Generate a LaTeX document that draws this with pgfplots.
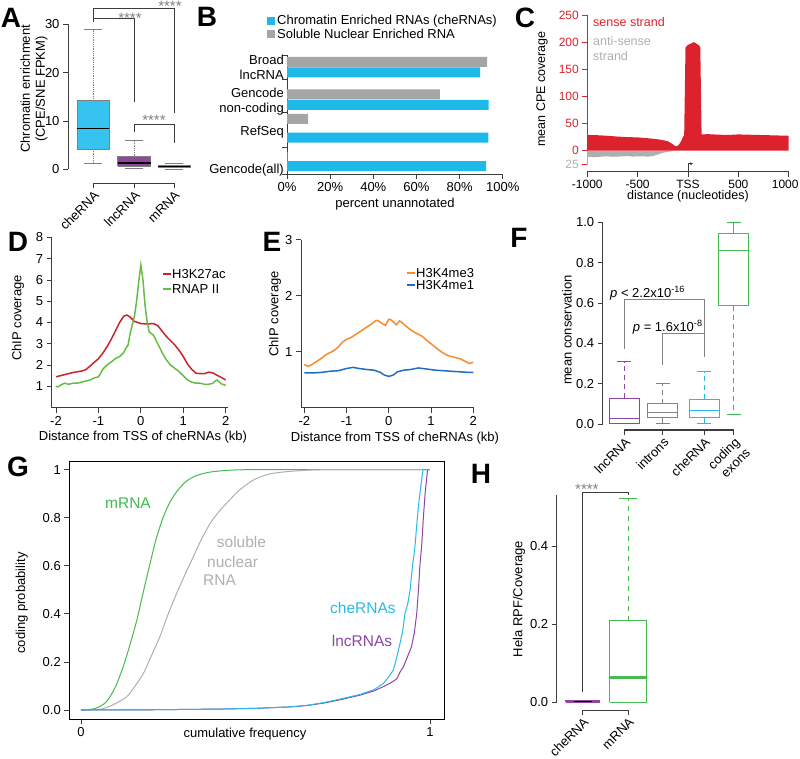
\documentclass[border=0pt]{standalone}
\usepackage{fontspec}
\setmainfont{Liberation Sans}
\usepackage{pgfplots}
\pgfplotsset{compat=1.18}
\usetikzlibrary{arrows.meta}
\definecolor{cheblue}{RGB}{55,195,240}
\definecolor{bbar}{RGB}{30,185,235}
\definecolor{bgray}{RGB}{165,165,168}
\definecolor{lncpurple}{RGB}{145,70,160}
\definecolor{mgreen}{RGB}{30,75,45}
\definecolor{cred}{RGB}{220,35,45}
\definecolor{cgray}{RGB}{175,175,175}
\definecolor{dred}{RGB}{200,35,45}
\definecolor{dgreen}{RGB}{100,190,70}
\definecolor{eorange}{RGB}{245,140,45}
\definecolor{eblue}{RGB}{30,110,195}
\definecolor{fpurple}{RGB}{140,70,165}
\definecolor{fgray}{RGB}{130,130,130}
\definecolor{fcyan}{RGB}{40,185,235}
\definecolor{fgreen}{RGB}{70,185,80}
\definecolor{axgray}{RGB}{60,60,60}
\newcommand{\fs}{\fontsize{13}{15}\selectfont}
\newcommand{\fl}{\fontsize{15.5}{17}\selectfont}
\newcommand{\panel}{\fontsize{28}{30}\selectfont\bfseries}
\pgfplotsset{
  every axis/.append style={
    scale only axis,
    font=\fs,
    /pgf/number format/assume math mode=true,
    tick style={axgray, line width=0.8pt},
    major tick length=5pt,
    tick align=outside,
    axis line style={axgray, line width=0.9pt},
    clip=false,
  },
  fdash/.style={dash pattern=on 5pt off 4pt, line width=1pt},
}
\begin{document}
\begin{tikzpicture}
% ================= A =================
\begin{axis}[at={(68pt,-183.3pt)}, anchor=south west, width=127pt, height=178.3pt,
  xmin=68, xmax=195, ymin=-2.9, ymax=34,
  axis line style={draw=none}, tick pos=left,
  xtick={93,134,174}, xticklabels={cheRNA,lncRNA,mRNA},
  xticklabel style={rotate=45, anchor=north east, inner sep=1pt},
  ytick={0,10,20,30}]
% cheRNA
\addplot[gray, densely dotted, line width=0.8pt] coordinates {(93,14.2) (93,29)};
\addplot[gray, densely dotted, line width=0.8pt] coordinates {(93,4.2) (93,1.3)};
\addplot[gray, line width=0.8pt] coordinates {(84,29) (102,29)};
\addplot[gray, line width=0.8pt] coordinates {(84,1.3) (102,1.3)};
\addplot[draw=gray, fill=cheblue] coordinates {(77,4.2) (109,4.2) (109,14.2) (77,14.2) (77,4.2)};
\addplot[black, line width=1.6pt] coordinates {(77,8.4) (109,8.4)};
% lncRNA
\addplot[gray, densely dotted, line width=0.8pt] coordinates {(134,2.7) (134,5.9)};
\addplot[gray, densely dotted, line width=0.8pt] coordinates {(134,0.7) (134,0.1)};
\addplot[gray, line width=0.8pt] coordinates {(125,5.9) (143,5.9)};
\addplot[gray, line width=0.8pt] coordinates {(125,0.1) (143,0.1)};
\addplot[draw=gray, fill=lncpurple] coordinates {(117.5,0.7) (150.5,0.7) (150.5,2.7) (117.5,2.7) (117.5,0.7)};
\addplot[black, line width=1.6pt] coordinates {(117.5,1.3) (150.5,1.3)};
% mRNA
\addplot[gray, densely dotted, line width=0.8pt] coordinates {(174,0.8) (174,1.3)};
\addplot[gray, line width=0.8pt] coordinates {(165,1.3) (183,1.3)};
\addplot[gray, line width=0.8pt] coordinates {(165,0.05) (183,0.05)};
\addplot[draw=gray, fill=mgreen] coordinates {(158,0.4) (190,0.4) (190,0.8) (158,0.8) (158,0.4)};
\addplot[black, line width=1.6pt] coordinates {(158,0.6) (190,0.6)};
\draw[axgray, line width=0.9pt] (axis cs:68,0) -- (axis cs:68,30);
\draw[axgray, line width=0.9pt] (axis cs:93,-2.9) -- (axis cs:174,-2.9);
\draw[axgray, line width=0.8pt] (axis cs:93,30.5) -- (axis cs:93,33.2) -- (axis cs:174,33.2) -- (axis cs:174,11.6);
\draw[axgray, line width=0.8pt] (axis cs:93,31.3) -- (axis cs:134,31.3) -- (axis cs:134,14);
\draw[axgray, line width=0.8pt] (axis cs:134,7.8) -- (axis cs:134,9.35) -- (axis cs:174,9.35) -- (axis cs:174,5.4);
\end{axis}
% ================= B =================
\begin{axis}[at={(287pt,-174pt)}, anchor=south west, width=215.7pt, height=119pt,
  xmin=0, xmax=100, ymin=-174, ymax=-55,
  axis x line*=bottom, axis y line*=left, x axis line style={-}, y axis line style={-},
  xtick={0,20,40,60,80,100}, xticklabels={0\%,20\%,40\%,60\%,80\%,100\%},
  ytick={-174,-147,-112,-79,-55}, yticklabels={}]
\addplot[xbar, bar shift=0pt, bar width=10pt, fill=bgray, draw=none] coordinates {(92.8,-62) (70.9,-94.5) (9.8,-119) (0.3,-157)};
\addplot[xbar, bar shift=0pt, bar width=10pt, fill=bbar, draw=none] coordinates {(89.5,-72.5) (93.5,-105) (93.3,-137.7) (92.3,-166.2)};
\end{axis}
% ================= C =================
\begin{axis}[at={(587.3pt,-171.7pt)}, anchor=south west, width=201.4pt, height=156.7pt,
  xmin=-1000, xmax=1000, ymin=-38.7, ymax=250,
  axis line style={draw=none}, tick pos=left,
  font=\fontsize{12}{14}\selectfont,
  xtick={-1000,-500,0,500,1000}, xticklabels={-1000,-500,TSS,500,\makebox[0pt]{\hspace{-7pt}1000}},
  ytick={-25,0,50,100,150,200,250}, yticklabels={\textcolor{cgray}{25},0,50,100,150,200,250},
  yticklabel style={text=cred}, ytick style={cred}]
\addplot[fill=cgray, draw=none] coordinates {(-1000,0) (-1000,-11) (-950,-12) (-900,-11.5) (-850,-10.8) (-800,-10.5) (-750,-11.2) (-700,-11) (-650,-10.4) (-600,-10) (-550,-10.8) (-500,-10.5) (-450,-10.2) (-400,-11) (-350,-10) (-300,-7) (-250,-4) (-200,-2) (-150,-0.5) (-100,0)} \closedcycle;
\addplot[fill=cred, draw=none] coordinates {(-1000,0) (-1000,29) (-900,28.5) (-800,27.5) (-700,26) (-600,25) (-500,24.5) (-400,23) (-300,21) (-250,19.5) (-200,17.5) (-160,13) (-130,9) (-110,8) (-90,11) (-70,17) (-50,25) (-38,28) (-25,190) (0,195) (60,200) (110,194) (122,190) (135,30) (200,30.5) (300,29.5) (400,29) (500,30) (600,29.5) (700,29) (800,28.5) (900,28) (1000,27.5) (1000,0)} \closedcycle;
\draw[cred, line width=0.9pt] (axis cs:-1000,0) -- (axis cs:-1000,250);
\draw[cgray, line width=0.9pt] (axis cs:-1000,-27) -- (axis cs:-1000,0);
\draw[axgray, line width=0.9pt] (axis cs:-1000,-38.7) -- (axis cs:1000,-38.7);
\draw[axgray, line width=0.7pt, -{Stealth[length=3pt,width=3pt]}] (axis cs:0,-38.7) -- (axis cs:0,-24) -- (axis cs:50,-24);
\end{axis}
% ================= D =================
\begin{axis}[at={(51.7pt,-407.7pt)}, anchor=south west, width=176.1pt, height=170.4pt,
  xmin=-2.101, xmax=2.05, ymin=0, ymax=8,
  axis x line*=bottom, axis y line*=left, x axis line style={-}, y axis line style={-},
  xtick={-2,-1,0,1,2}, ytick={1,2,3,4,5,6,7,8}]
\addplot[dred, line width=1.5pt] coordinates {(-2,1.45) (-1.8,1.55) (-1.6,1.65) (-1.4,1.72) (-1.3,1.78) (-1.2,1.95) (-1.0,2.3) (-0.9,2.55) (-0.8,2.85) (-0.7,3.2) (-0.6,3.6) (-0.5,4.0) (-0.4,4.3) (-0.33,4.35) (-0.25,4.25) (-0.15,4.05) (0,3.95) (0.15,3.93) (0.3,3.95) (0.4,3.85) (0.5,3.6) (0.6,3.35) (0.7,3.15) (0.8,2.95) (0.9,2.7) (1.0,2.4) (1.1,2.05) (1.2,1.8) (1.3,1.62) (1.4,1.6) (1.5,1.6) (1.6,1.67) (1.7,1.63) (1.8,1.52) (1.9,1.42) (2.0,1.3)};
\addplot[dgreen, line width=1.5pt] coordinates {(-2,1.0) (-1.95,0.98) (-1.9,1.05) (-1.8,1.15) (-1.7,1.1) (-1.6,1.15) (-1.5,1.15) (-1.4,1.2) (-1.3,1.25) (-1.2,1.3) (-1.1,1.4) (-1.0,1.45) (-0.95,1.6) (-0.9,1.8) (-0.8,2.0) (-0.7,2.15) (-0.6,2.3) (-0.5,2.4) (-0.4,2.6) (-0.35,2.8) (-0.3,2.95) (-0.25,3.5) (-0.2,3.9) (-0.15,4.3) (-0.1,5.0) (-0.05,5.9) (0,6.7) (0.05,6.0) (0.1,4.8) (0.15,4.0) (0.2,3.55) (0.3,3.4) (0.4,3.0) (0.5,2.6) (0.6,2.25) (0.7,2.0) (0.8,1.85) (0.9,1.7) (1.0,1.5) (1.1,1.3) (1.2,1.2) (1.3,1.15) (1.4,1.15) (1.5,1.1) (1.6,1.1) (1.7,1.15) (1.75,1.25) (1.8,1.3) (1.85,1.2) (1.9,1.12) (2.0,1.05)};
\end{axis}
% ================= E =================
\begin{axis}[at={(301pt,-407.7pt)}, anchor=south west, width=173.2pt, height=168pt,
  xmin=-2.078, xmax=2.02, ymin=0, ymax=3,
  axis x line*=bottom, axis y line*=left, x axis line style={-}, y axis line style={-},
  xtick={-2,-1,0,1,2}, ytick={1,2,3}]
\addplot[eorange, line width=1.5pt] coordinates {(-2,0.77) (-1.9,0.74) (-1.8,0.78) (-1.7,0.83) (-1.6,0.88) (-1.5,0.94) (-1.4,0.98) (-1.3,1.02) (-1.2,1.08) (-1.1,1.17) (-1.0,1.22) (-0.9,1.25) (-0.8,1.3) (-0.7,1.35) (-0.6,1.4) (-0.5,1.45) (-0.4,1.5) (-0.3,1.56) (-0.25,1.55) (-0.15,1.5) (-0.08,1.47) (0,1.58) (0.05,1.57) (0.12,1.52) (0.18,1.48) (0.25,1.55) (0.3,1.53) (0.4,1.46) (0.5,1.4) (0.6,1.35) (0.7,1.31) (0.8,1.27) (0.9,1.2) (1.0,1.14) (1.1,1.08) (1.2,1.02) (1.3,0.97) (1.4,0.93) (1.5,0.91) (1.6,0.89) (1.7,0.87) (1.8,0.83) (1.9,0.79) (2.0,0.81)};
\addplot[eblue, line width=1.5pt] coordinates {(-2,0.62) (-1.8,0.62) (-1.6,0.63) (-1.4,0.65) (-1.2,0.66) (-1.0,0.7) (-0.85,0.72) (-0.7,0.7) (-0.5,0.68) (-0.35,0.67) (-0.2,0.63) (-0.1,0.58) (0,0.56) (0.1,0.58) (0.2,0.64) (0.35,0.67) (0.5,0.68) (0.7,0.71) (0.9,0.69) (1.1,0.67) (1.3,0.66) (1.5,0.65) (1.7,0.64) (1.9,0.63) (2.0,0.63)};
\end{axis}
% ================= F =================
\begin{axis}[at={(602.7pt,-430pt)}, anchor=south west, width=147.3pt, height=211.8pt,
  xmin=0, xmax=4.91, ymin=-0.03, ymax=1.02,
  axis line style={draw=none}, tick pos=left,
  xtick={0.72,2.0,3.377,4.367}, xticklabels={lncRNA,introns,cheRNA,{coding\\exons}},
  xticklabel style={rotate=45, anchor=north east, align=right, inner sep=1pt},
  ytick={0,0.2,0.4,0.6,0.8,1.0}, yticklabels={0.0,0.2,0.4,0.6,0.8,1.0}]
% lncRNA
\addplot[fpurple, fdash] coordinates {(0.72,0.127) (0.72,0.309)};
\addplot[fpurple, line width=1pt] coordinates {(0.487,0.309) (0.953,0.309)};
\addplot[fpurple, line width=1pt] coordinates {(0.487,0) (0.953,0)};
\addplot[draw=fpurple, fill=white, line width=1pt] coordinates {(0.22,0.004) (1.22,0.004) (1.22,0.127) (0.22,0.127) (0.22,0.004)};
\addplot[fpurple, line width=1pt] coordinates {(0.22,0.028) (1.22,0.028)};
% introns
\addplot[fgray, fdash] coordinates {(2.0,0.10) (2.0,0.20)};
\addplot[fgray, line width=1pt] coordinates {(1.767,0.20) (2.233,0.20)};
\addplot[fgray, line width=1pt] coordinates {(1.767,0) (2.233,0)};
\addplot[fgray, fdash] coordinates {(2.0,0.031) (2.0,0)};
\addplot[draw=fgray, fill=white, line width=1pt] coordinates {(1.5,0.031) (2.5,0.031) (2.5,0.10) (1.5,0.10) (1.5,0.031)};
\addplot[fgray, line width=1pt] coordinates {(1.5,0.058) (2.5,0.058)};
% cheRNA
\addplot[fcyan, fdash] coordinates {(3.377,0.122) (3.377,0.26)};
\addplot[fcyan, line width=1pt] coordinates {(3.144,0.26) (3.61,0.26)};
\addplot[fcyan, line width=1pt] coordinates {(3.144,0) (3.61,0)};
\addplot[fcyan, fdash] coordinates {(3.377,0.031) (3.377,0)};
\addplot[draw=fcyan, fill=white, line width=1pt] coordinates {(2.877,0.031) (3.877,0.031) (3.877,0.122) (2.877,0.122) (2.877,0.031)};
\addplot[fcyan, line width=1pt] coordinates {(2.877,0.066) (3.877,0.066)};
% coding exons
\addplot[fgreen, fdash] coordinates {(4.367,0.585) (4.367,0.045)};
\addplot[fgreen, line width=1pt] coordinates {(4.134,1.0) (4.6,1.0)};
\addplot[fgreen, line width=1pt] coordinates {(4.367,0.945) (4.367,1.0)};
\addplot[fgreen, line width=1pt] coordinates {(4.134,0.045) (4.6,0.045)};
\addplot[draw=fgreen, fill=white, line width=1pt] coordinates {(3.867,0.585) (4.867,0.585) (4.867,0.945) (3.867,0.945) (3.867,0.585)};
\addplot[fgreen, line width=1pt] coordinates {(3.867,0.86) (4.867,0.86)};
\draw[axgray, line width=1.2pt] (axis cs:0,0) -- (axis cs:0,1.0);
\draw[axgray, line width=1.2pt] (axis cs:0.72,-0.03) -- (axis cs:4.367,-0.03);
\draw[fgray, line width=0.8pt] (axis cs:0.72,0.37) -- (axis cs:0.72,0.615) -- (axis cs:3.377,0.615) -- (axis cs:3.377,0.334);
\draw[fgray, line width=0.8pt] (axis cs:2.0,0.29) -- (axis cs:2.0,0.45) -- (axis cs:3.377,0.45);
\end{axis}
% ================= G =================
\begin{axis}[at={(69.3pt,-719pt)}, anchor=south west, width=375pt, height=258pt,
  xmin=-0.0335, xmax=1.041, ymin=-0.0374, ymax=1.036,
  tick pos=left, axis line style={black, line width=0.9pt},
  xtick={0,1}, xticklabels={0,1},
  ytick={0,0.2,0.4,0.6,0.8,1}, yticklabels={0.0,0.2,0.4,0.6,0.8,1}]
\addplot[fgreen, line width=1pt, smooth, tension=0.4] coordinates {(0,0) (0.03,0.003) (0.05,0.012) (0.07,0.03) (0.083,0.055) (0.1,0.1) (0.121,0.18) (0.14,0.27) (0.16,0.374) (0.18,0.5) (0.198,0.61) (0.215,0.71) (0.235,0.8) (0.255,0.865) (0.275,0.91) (0.3,0.95) (0.33,0.975) (0.37,0.99) (0.42,0.997) (0.5,1) (1,1)};
\addplot[cgray, line width=1pt, smooth, tension=0.4] coordinates {(0,0) (0.054,0.003) (0.09,0.02) (0.131,0.055) (0.155,0.1) (0.179,0.153) (0.2,0.22) (0.226,0.305) (0.25,0.4) (0.274,0.485) (0.3,0.57) (0.322,0.638) (0.345,0.71) (0.37,0.776) (0.395,0.825) (0.417,0.86) (0.45,0.91) (0.494,0.957) (0.54,0.982) (0.6,0.993) (0.7,1) (1,1)};
\addplot[fpurple, line width=1pt] coordinates {(0,0) (0.2,0.001) (0.4,0.004) (0.5,0.007) (0.6,0.013) (0.65,0.019) (0.7,0.03) (0.75,0.045) (0.8,0.062) (0.84,0.08) (0.866,0.097) (0.89,0.115) (0.905,0.13) (0.915,0.16) (0.924,0.18) (0.935,0.22) (0.947,0.263) (0.955,0.32) (0.962,0.402) (0.967,0.5) (0.971,0.6) (0.976,0.68) (0.981,0.8) (0.986,0.9) (0.99,0.957) (0.993,1) (1,1)};
\addplot[fcyan, line width=1pt] coordinates {(0,0) (0.2,0.001) (0.4,0.004) (0.5,0.007) (0.6,0.013) (0.65,0.02) (0.7,0.032) (0.75,0.048) (0.8,0.065) (0.84,0.085) (0.866,0.11) (0.88,0.135) (0.895,0.166) (0.905,0.22) (0.914,0.277) (0.922,0.33) (0.928,0.40) (0.936,0.44) (0.943,0.50) (0.95,0.6) (0.957,0.68) (0.962,0.77) (0.967,0.85) (0.972,0.91) (0.976,0.957) (0.98,1) (1,1)};
\end{axis}
% ================= H =================
\begin{axis}[at={(556.7pt,-710pt)}, anchor=south west, width=93.3pt, height=214.7pt,
  xmin=0, xmax=2.666, ymin=-0.0205, ymax=0.53,
  axis line style={draw=none}, tick pos=left,
  xtick={0.743,2.046}, xticklabels={cheRNA,mRNA},
  xticklabel style={rotate=45, anchor=north east, inner sep=1pt},
  ytick={0,0.2,0.4}, yticklabels={0.0,0.2,0.4}]
\addplot[draw=lncpurple, fill=lncpurple, line width=2.5pt] coordinates {(0.27,0) (1.215,0) (1.215,0.003) (0.27,0.003) (0.27,0)};
\addplot[black, line width=0.9pt] coordinates {(0.497,0.0015) (1.0,0.0015)};
\addplot[fgreen, dash pattern=on 5pt off 5pt, line width=1pt] coordinates {(2.046,0.208) (2.046,0.523)};
\addplot[fgreen, line width=1pt] coordinates {(1.789,0.523) (2.303,0.523)};
\addplot[draw=fgreen, fill=white, line width=1pt] coordinates {(1.517,0) (2.575,0) (2.575,0.208) (1.517,0.208) (1.517,0)};
\addplot[fgreen, line width=3pt] coordinates {(1.517,0.064) (2.575,0.064)};
\draw[axgray, line width=0.9pt] (axis cs:0,0) -- (axis cs:0,0.53);
\draw[axgray, line width=0.9pt] (axis cs:0.743,-0.0205) -- (axis cs:2.046,-0.0205);
\draw[axgray, line width=0.9pt] (axis cs:0.743,0.026) -- (axis cs:0.743,0.537) -- (axis cs:2.046,0.537) -- (axis cs:2.046,0.530);
\end{axis}
% ================= free text =================
\node[font=\panel] at (11pt,-18pt) {A};
\node[font=\panel] at (207pt,-17pt) {B};
\node[font=\panel] at (525pt,-18pt) {C};
\node[font=\panel] at (18pt,-242pt) {D};
\node[font=\panel] at (272pt,-242pt) {E};
\node[font=\panel] at (519pt,-238pt) {F};
\node[font=\panel] at (18pt,-467pt) {G};
\node[font=\panel] at (481pt,-474pt) {H};
% A
\node[font=\fs, rotate=90, align=center] at (34pt,-89pt) {Chromatin enrichment\\(CPE/SNE FPKM)};
\node[font=\fontsize{15}{16}\selectfont, text=gray] at (170pt,-6pt) {****};
\node[font=\fontsize{15}{16}\selectfont, text=gray] at (130pt,-18pt) {****};
\node[font=\fontsize{15}{16}\selectfont, text=gray] at (154pt,-120pt) {****};
% B
\fill[bbar] (267pt,-17pt) rectangle (275pt,-25pt);
\fill[bgray] (267pt,-30pt) rectangle (275pt,-38pt);
\node[font=\fs, anchor=west, inner sep=0pt] at (277pt,-21.5pt) {Chromatin Enriched RNAs (cheRNAs)};
\node[font=\fs, anchor=west, inner sep=0pt] at (277pt,-34pt) {Soluble Nuclear Enriched RNA};
\node[font=\fs, anchor=east, align=right, inner sep=0pt] at (284pt,-67pt) {Broad\\lncRNA};
\node[font=\fs, anchor=east, align=right, inner sep=0pt] at (284pt,-102pt) {Gencode\\non-coding};
\node[font=\fs, anchor=east, align=right, inner sep=0pt] at (284pt,-132pt) {RefSeq};
\node[font=\fs, anchor=east, align=right, inner sep=0pt] at (284pt,-170pt) {Gencode(all)};
\node[font=\fs] at (395pt,-204pt) {percent unannotated};
% C
\node[font=\fontsize{12.5}{14}\selectfont, text=cred, anchor=west, inner sep=0pt] at (593pt,-21.7pt) {sense strand};
\node[font=\fontsize{12.5}{14}\selectfont, text=cgray, anchor=west, inner sep=0pt] at (593pt,-41pt) {anti-sense};
\node[font=\fontsize{12.5}{14}\selectfont, text=cgray, anchor=west, inner sep=0pt] at (593pt,-56.5pt) {strand};
\node[font=\fontsize{12.5}{14}\selectfont, rotate=90] at (542pt,-89pt) {mean CPE coverage};
\node[font=\fontsize{12.5}{14}\selectfont] at (688pt,-196.7pt) {distance (nucleotides)};
% D
\node[font=\fs, rotate=90] at (18pt,-318pt) {ChIP coverage};
\node[font=\fs] at (143pt,-436.7pt) {Distance from TSS of cheRNAs (kb)};
\draw[dred, line width=1.5pt] (163pt,-274pt) -- (171pt,-274pt);
\draw[dgreen, line width=1.5pt] (163pt,-289pt) -- (171pt,-289pt);
\node[font=\fs, anchor=west, inner sep=0pt] at (172pt,-274pt) {H3K27ac};
\node[font=\fs, anchor=west, inner sep=0pt] at (172pt,-289pt) {RNAP II};
% E
\node[font=\fs, rotate=90] at (275pt,-314pt) {ChIP coverage};
\node[font=\fs] at (395pt,-437.7pt) {Distance from TSS of cheRNAs (kb)};
\draw[eorange, line width=1.5pt] (407pt,-273pt) -- (415pt,-273pt);
\draw[eblue, line width=1.5pt] (407pt,-285pt) -- (415pt,-285pt);
\node[font=\fs, anchor=west, inner sep=0pt] at (416pt,-273pt) {H3K4me3};
\node[font=\fs, anchor=west, inner sep=0pt] at (416pt,-285pt) {H3K4me1};
% F
\node[font=\fs, rotate=90] at (567pt,-330pt) {mean conservation};
\node[font=\fs, anchor=west, inner sep=0pt] at (610pt,-293pt) {\textit{p} < 2.2x10\textsuperscript{-16}};
\node[font=\fs, anchor=west, inner sep=0pt] at (632.7pt,-327pt) {\textit{p} = 1.6x10\textsuperscript{-8}};
% G
\node[font=\fs, rotate=90] at (21.7pt,-603pt) {coding probability};
\node[font=\fs] at (245pt,-734pt) {cumulative frequency};
\node[font=\fl, text=fgreen, anchor=west, inner sep=0pt] at (105pt,-503.3pt) {mRNA};
\node[font=\fl, text=cgray, anchor=west, inner sep=0pt] at (216.7pt,-542.3pt) {soluble};
\node[font=\fl, text=cgray, anchor=west, inner sep=0pt] at (207pt,-561.7pt) {nuclear};
\node[font=\fl, text=cgray, anchor=west, inner sep=0pt] at (203pt,-580pt) {RNA};
\node[font=\fl, text=fcyan, anchor=west, inner sep=0pt] at (330pt,-608.3pt) {cheRNAs};
\node[font=\fl, text=fpurple, anchor=west, inner sep=0pt] at (331.7pt,-641pt) {lncRNAs};
% H
\node[font=\fs, rotate=90] at (519pt,-599pt) {Hela RPF/Coverage};
\node[font=\fontsize{15}{16}\selectfont, text=gray, anchor=west, inner sep=0pt] at (575pt,-489pt) {****};
\pgfresetboundingbox
\path[use as bounding box] (0pt,0pt) rectangle (800pt,-759pt);
\end{tikzpicture}
\end{document}
